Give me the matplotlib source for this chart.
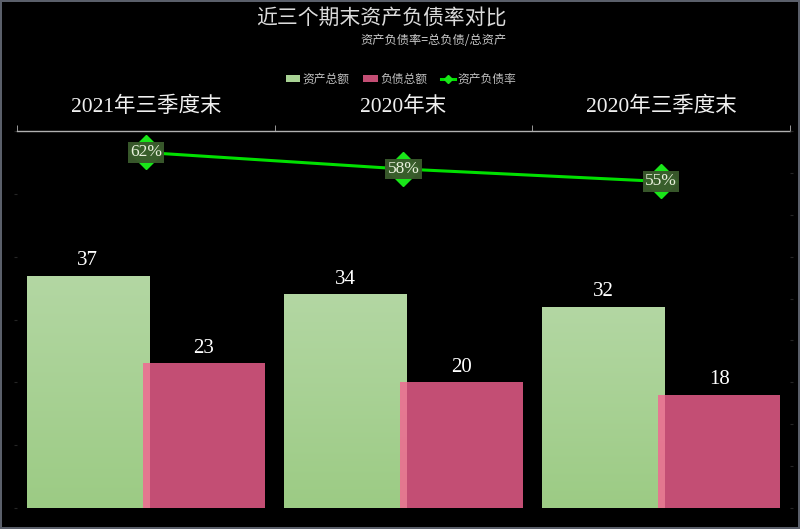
import matplotlib
matplotlib.use("Agg")
import matplotlib.pyplot as plt
import numpy as np
from matplotlib.ticker import FixedLocator, LinearLocator
from matplotlib.colors import LinearSegmentedColormap

categories = ["2021年三季度末", "2020年末", "2020年三季度末"]
assets = [37, 34, 32]
liabilities = [23, 20, 18]
ratio = [0.62, 0.58, 0.55]
ratio_labels = ["62%", "58%", "55%"]

title = "近三个期末资产负债率对比"
subtitle = "资产负债率=总负债/总资产"
legend_names = ["资产总额", "负债总额", "资产负债率"]

SERIF = ["Liberation Serif", "Noto Sans CJK SC", "DejaVu Sans"]
SANS = ["Noto Sans CJK SC", "DejaVu Sans"]
plt.rcParams["font.family"] = SANS

fig = plt.figure(figsize=(8.0, 5.29), dpi=100, facecolor="black")
fig.patch.set_edgecolor("#5a5f6a")
fig.patch.set_linewidth(1.5)

ax = fig.add_axes([17/800, 1-508/529, (790-17)/800, (508-131)/529])
ax.set_facecolor("black")
ax2 = ax.twinx()

x = np.arange(len(categories))
w = 0.475
off = 0.225

green_bars = ax.bar(x - off, assets, w, color="#a8d294", zorder=2, label=legend_names[0])
grad = np.linspace(0, 1, 256).reshape(-1, 1)
gcmap = LinearSegmentedColormap.from_list("g", ["#9ccb84", "#b3d7a3"])
for b in green_bars:
    bx, by = b.get_x(), b.get_y()
    bw, bh = b.get_width(), b.get_height()
    im = ax.imshow(grad, extent=[bx, bx + bw, by, by + bh], origin="lower",
                   cmap=gcmap, aspect="auto", zorder=2.1)
    im.set_clip_path(b)

pink_bars = ax.bar(x + off, liabilities, w, color="#f56292", alpha=0.8, zorder=3,
                   label=legend_names[1])

for xi, v in zip(x - off, assets):
    ax.annotate(str(v), (xi, v), xytext=(0, 4), textcoords="offset points",
                ha="center", va="bottom", color="white", fontsize=15, family=SERIF)
for xi, v in zip(x + off, liabilities):
    ax.annotate(str(v), (xi, v), xytext=(0, 4), textcoords="offset points",
                ha="center", va="bottom", color="white", fontsize=15, family=SERIF)

ax.set_xlim(-0.5, len(categories) - 0.5)
ax.set_ylim(0, 60)
ax2.set_ylim(-0.24, 0.672)

line, = ax2.plot(x, ratio, color="#00e000", lw=2.2, marker="D", markersize=17,
                 markerfacecolor="#19e619", markeredgecolor="#19e619", zorder=5,
                 label=legend_names[2])
for xi, v, t in zip(x, ratio, ratio_labels):
    ax2.text(xi, v, t, ha="center", va="center", color="#e8f0dc", fontsize=12.5,
             family=SERIF, zorder=6,
             bbox=dict(boxstyle="square,pad=0.12", facecolor="#3a5a2c",
                       edgecolor="none", alpha=0.97))

ax.xaxis.tick_top()
ax.set_xticks(x)
ax.set_xticklabels(categories, family=SERIF, fontsize=15.5, color="#f0f0f0")
ax.tick_params(axis="x", which="major", length=0, pad=10)
ax.xaxis.set_minor_locator(FixedLocator(np.arange(-0.5, len(categories), 1.0)))
ax.tick_params(axis="x", which="minor", length=4, color="#b0b0b0", top=True, bottom=False)

for a in (ax, ax2):
    for s in ("left", "right", "bottom"):
        a.spines[s].set_visible(False)
ax.spines["top"].set_color("#b0b0b0")
ax.spines["top"].set_linewidth(1.0)
ax2.spines["top"].set_visible(False)

ax.yaxis.set_major_locator(LinearLocator(7))
ax.tick_params(axis="y", length=2, color="#252525", labelleft=False)
ax2.yaxis.set_major_locator(LinearLocator(10))
ax2.tick_params(axis="y", length=2, color="#252525", labelright=False)

fig.text(381/800, 1 - 18/529, title, ha="center", va="center", color="#dcdcdc",
         fontsize=15, family=SANS, fontweight="light")
fig.text(507/800, 1 - 41/529, subtitle, ha="right", va="center", color="#c8c8c8",
         fontsize=8.8, family=SANS, fontweight="light")

leg = fig.legend(handles=[green_bars, pink_bars, line], labels=legend_names,
                 loc="center", bbox_to_anchor=(401/800, 1 - 79/529), ncol=3,
                 frameon=False, fontsize=8.5, handlelength=1.2, handleheight=0.55,
                 handletextpad=0.2, columnspacing=1.2, labelcolor="#c0c0c0")
for h in leg.legend_handles:
    if hasattr(h, "set_markersize"):
        h.set_markersize(4)

fig.savefig("out.png", dpi=100, facecolor="black", edgecolor=fig.patch.get_edgecolor())
